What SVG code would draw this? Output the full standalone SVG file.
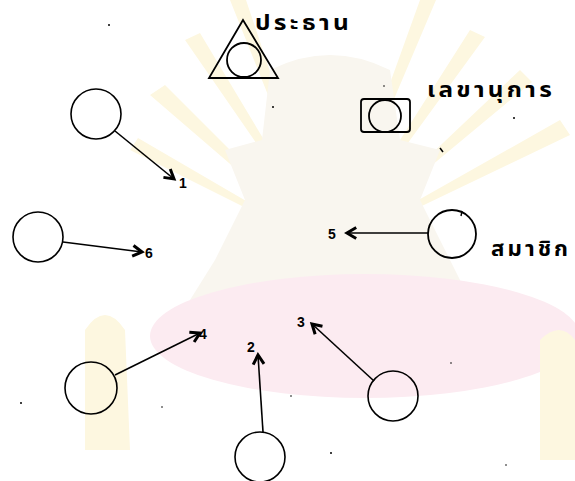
<svg xmlns="http://www.w3.org/2000/svg" width="575" height="481" viewBox="0 0 575 481">
<defs>
<marker id="arr" markerUnits="userSpaceOnUse" markerWidth="15" markerHeight="15" refX="10" refY="5.5" orient="auto" viewBox="0 0 13 11">
<path d="M2,0.8 L10,5.5 L2,10.2" fill="none" stroke="#000" stroke-width="2.6" stroke-linejoin="miter"/>
</marker>
<style>
.n{fill:none;stroke:#000;stroke-width:1.8}
.c{fill:none;stroke:#000;stroke-width:1.6}
.e{stroke:#000;stroke-width:1.6;fill:none;marker-end:url(#arr)}
.th{font-family:"Noto Sans Thai","Noto Sans Thai UI","Loma","Garuda","Norasi","Noto Sans","DejaVu Sans",sans-serif;font-weight:bold;font-size:22px;fill:#000;letter-spacing:3px}
.num{font-family:"Liberation Sans","DejaVu Sans",sans-serif;font-weight:bold;font-size:14px;fill:#000}
.wm-ray{fill:#fdf7e0}
.wm-body{fill:#f9f6ef}
.wm-pink{fill:#fcebf1}
</style>
</defs>
<rect width="575" height="481" fill="#fff"/>
<g id="watermark">
<path class="wm-ray" d="M330,250 L150,95 L165,85 Z M330,250 L185,40 L200,33 Z M330,250 L230,0 L246,0 Z M330,250 L420,0 L436,0 Z M330,250 L470,30 L485,37 Z M330,250 L520,70 L532,82 Z M330,250 L560,120 L570,135 Z M330,250 L130,150 L138,138 Z"/>
<path class="wm-body" d="M270,70 Q330,40 390,70 L400,140 L440,150 L420,200 L450,260 L470,300 L190,300 L215,260 L245,200 L225,150 L262,140 Z"/>
<ellipse class="wm-pink" cx="365" cy="336" rx="215" ry="62"/>
<path class="wm-ray" d="M85,330 Q105,300 125,330 L130,450 L85,450 Z M540,340 Q560,320 575,340 L575,460 L540,460 Z"/>
</g>
<g id="connectors">
<line class="e" x1="115" y1="131" x2="174" y2="179"/>
<line class="e" x1="63" y1="242" x2="142" y2="252"/>
<line class="e" x1="428" y1="233" x2="347" y2="233"/>
<line class="e" x1="115" y1="375" x2="200" y2="333"/>
<line class="e" x1="263" y1="432" x2="258" y2="355"/>
<line class="e" x1="374" y1="381" x2="312" y2="324"/>
</g>
<g id="chairman">
<path class="n" d="M243,20 L209,78 L278,78 Z"/>
<circle class="n" cx="244" cy="60" r="17"/>
<text class="th" x="255" y="30" textLength="97" lengthAdjust="spacingAndGlyphs">ประธาน</text>
</g>
<g id="secretary">
<rect class="n" x="361" y="99" width="49" height="33" rx="3"/>
<circle class="n" cx="385" cy="116" r="16"/>
<text class="th" x="427" y="97" textLength="128" lengthAdjust="spacingAndGlyphs">เลขานุการ</text>
</g>
<g id="member">
<circle class="n" cx="452" cy="234" r="24"/>
<path d="M462,211 L461,216" stroke="#000" stroke-width="1.4"/>
<text class="th" x="491" y="256" textLength="80" lengthAdjust="spacingAndGlyphs">สมาชิก</text>
</g>
<g id="node1"><circle class="c" cx="96" cy="114" r="25"/></g>
<g id="node6"><circle class="c" cx="38" cy="237" r="25"/></g>
<g id="node4"><circle class="c" cx="91" cy="388" r="26"/></g>
<g id="node2"><circle class="c" cx="260" cy="457" r="25"/></g>
<g id="node3"><circle class="c" cx="393" cy="396" r="25"/></g>
<g id="labels">
<text class="num" x="179" y="188" font-size="12">1</text>
<text class="num" x="145" y="258">6</text>
<text class="num" x="328" y="239">5</text>
<text class="num" x="199" y="339">4</text>
<text class="num" x="247" y="352">2</text>
<text class="num" x="297" y="327">3</text>
</g>
<g id="specks" fill="#000">
<circle cx="109" cy="25" r="1"/>
<circle cx="273" cy="107" r="1"/>
<circle cx="384" cy="86" r="0.8"/>
<circle cx="514" cy="118" r="1"/>
<path d="M440,148 L443,152" stroke="#000" stroke-width="1.6"/>
<circle cx="451" cy="363" r="0.8"/>
<circle cx="291" cy="396" r="0.8"/>
<circle cx="162" cy="407" r="0.8"/>
<circle cx="21" cy="403" r="1"/>
<circle cx="331" cy="453" r="1"/>
<circle cx="506" cy="465" r="0.8"/>
</g>
</svg>
